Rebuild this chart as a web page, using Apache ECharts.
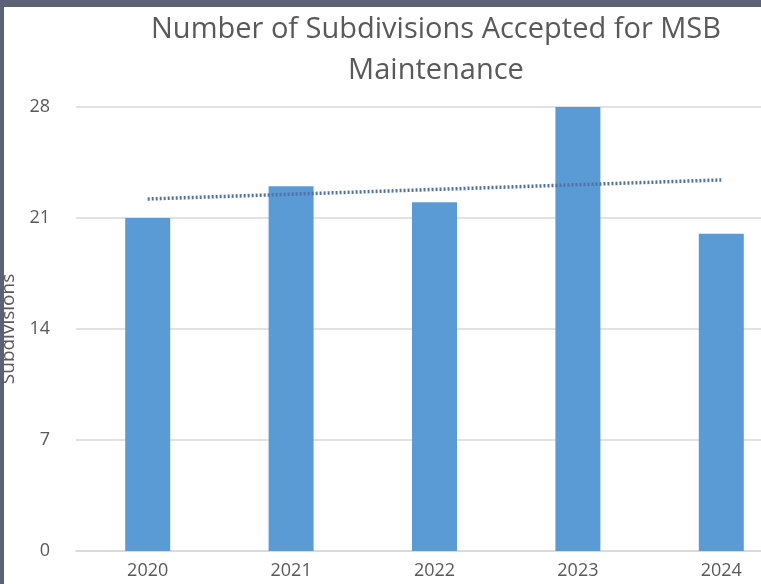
<!DOCTYPE html>
<html><head><meta charset="utf-8">
<script src="https://cdn.jsdelivr.net/npm/echarts@6/dist/echarts.min.js"></script>
<style>html,body{margin:0;padding:0;background:#fff;}#c{width:761px;height:584px;}</style>
</head><body><div id="c"></div>
<script>
const categories = ['2020','2021','2022','2023','2024'];
const subdivisions = [21, 23, 22, 28, 20];
const trendValues = [22.2, null, null, null, 23.4];
const yTicks = [0, 7, 14, 21, 28];

const chart = echarts.init(document.getElementById('c'));
const font = '"Open Sans", "Liberation Sans", sans-serif';
chart.setOption({
  backgroundColor: '#ffffff',
  animation: false,
  title: {
    text: 'Number of Subdivisions Accepted for MSB\nMaintenance',
    left: 431, top: 4, textAlign: 'center',
    textStyle: { fontFamily: font, fontSize: 29, fontWeight: 'normal', color: '#595959', lineHeight: 41 }
  },
  grid: { left: 76, top: 107, width: 717, height: 444, containLabel: false, outerBoundsMode: 'none' },
  xAxis: {
    type: 'category', data: categories,
    axisLine: { lineStyle: { color: '#d9d9d9', width: 1.5 } },
    axisTick: { show: false },
    axisLabel: { fontFamily: font, fontSize: 18, color: '#595959', margin: 11 }
  },
  yAxis: {
    type: 'value', min: yTicks[0], max: yTicks[yTicks.length-1], interval: 7,
    name: 'Subdivisions', nameLocation: 'middle', nameGap: 58, nameRotate: 90,
    nameTextStyle: { fontFamily: font, fontSize: 19, color: '#595959' },
    axisLine: { show: false }, axisTick: { show: false },
    splitLine: { lineStyle: { color: '#d9d9d9', width: 1.5 } },
    axisLabel: { fontFamily: font, fontSize: 18, color: '#595959', margin: 26 }
  },
  series: [
    { type: 'bar', data: subdivisions, barWidth: 45, itemStyle: { color: '#5b9bd5' } },
    { type: 'line', data: trendValues, connectNulls: true, showSymbol: false, symbol: 'none',
      z: 5, lineStyle: { color: '#4f72a8', width: 3.5, type: [2, 2] } }
  ],
  graphic: [
    { type: 'rect', shape: { x: 0, y: 0, width: 761, height: 7 }, style: { fill: '#5b6274' }, z: 100 },
    { type: 'rect', shape: { x: 0, y: 0, width: 4, height: 584 }, style: { fill: '#5b6274' }, z: 100 }
  ]
});
</script></body></html>
